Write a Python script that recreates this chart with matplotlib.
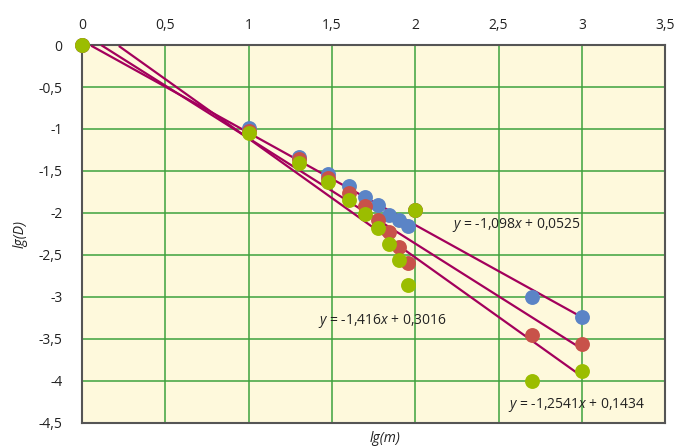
import numpy as np
import matplotlib.pyplot as plt

plt.rcParams['font.family'] = ['Open Sans', 'DejaVu Sans']
plt.rcParams['mathtext.fontset'] = 'custom'
plt.rcParams['mathtext.it'] = 'Open Sans:italic'
plt.rcParams['mathtext.rm'] = 'Open Sans'

# lg(m) values
x_vals = [0, 1, 1.301, 1.477, 1.602, 1.699, 1.778, 1.845, 1.903, 1.954, 2.0, 2.699, 3.0]
# lg(D) for the three series
blue_y = [0, -0.99, -1.33, -1.54, -1.68, -1.81, -1.90, -2.02, -2.08, -2.16, -1.96, -3.00, -3.24]
red_y = [0, -1.02, -1.36, -1.58, -1.76, -1.92, -2.08, -2.23, -2.40, -2.60, -1.96, -3.45, -3.56]
green_y = [0, -1.05, -1.40, -1.63, -1.84, -2.01, -2.18, -2.37, -2.56, -2.86, -1.96, -4.00, -3.88]

# trendlines (slope, intercept)
fits = [(-1.098, 0.0525), (-1.416, 0.3016), (-1.2541, 0.1434)]
fit_labels = ["$y$ = -1,098$x$ + 0,0525", "$y$ = -1,416$x$ + 0,3016", "$y$ = -1,2541$x$ + 0,1434"]
label_pos = [(2.22, -2.14), (1.415, -3.29), (2.555, -4.29)]

x_ticks = [0, 0.5, 1, 1.5, 2, 2.5, 3, 3.5]
y_ticks = [0, -0.5, -1, -1.5, -2, -2.5, -3, -3.5, -4, -4.5]

fig = plt.figure(figsize=(6.78, 4.46), dpi=100)
ax = fig.add_axes([0.121, 0.052, 0.86, 0.847])
ax.set_facecolor('#fef9dc')

ax.set_xlim(0, 3.5)
ax.set_ylim(-4.5, 0)
ax.set_xticks(x_ticks)
ax.set_yticks(y_ticks)
ax.set_xticklabels([f"{t:g}".replace('.', ',') for t in x_ticks])
ax.set_yticklabels([f"{t:g}".replace('.', ',') for t in y_ticks])
ax.xaxis.tick_top()
ax.tick_params(length=0, labelsize=10, colors='#222222', pad=9)
ax.tick_params(axis='y', pad=14)
ax.grid(True, color='#3ea23e', linewidth=1.1)
ax.set_axisbelow(True)
for s in ax.spines.values():
    s.set_color('#555555')
    s.set_linewidth(1.5)

# trendlines, clipped at y = 0
for (k, b) in fits:
    xs = np.linspace(0, 3, 200)
    ys = k * xs + b
    m = ys <= 0
    ax.plot(xs[m], ys[m], color='#a3005c', linewidth=1.6, zorder=3)

ms = 115
ax.scatter(x_vals, blue_y, s=ms, color='#5b84c6', zorder=4, clip_on=False, linewidths=0)
ax.scatter(x_vals, red_y, s=ms, color='#c8524a', zorder=5, clip_on=False, linewidths=0)
ax.scatter(x_vals, green_y, s=ms, color='#9bbd00', zorder=6, clip_on=False, linewidths=0)

for lab, (tx, ty) in zip(fit_labels, label_pos):
    ax.text(tx, ty, lab, fontsize=10, color='#222222', va='center', ha='left', zorder=7)

fig.text(0.568, 0.016, "lg(m)", style='italic', fontsize=10, ha='center', va='center', color='#222222')
fig.text(0.03, 0.475, "lg(D)", style='italic', fontsize=10, ha='center', va='center', rotation=90, color='#222222')

fig.savefig('out.png', dpi=100)
